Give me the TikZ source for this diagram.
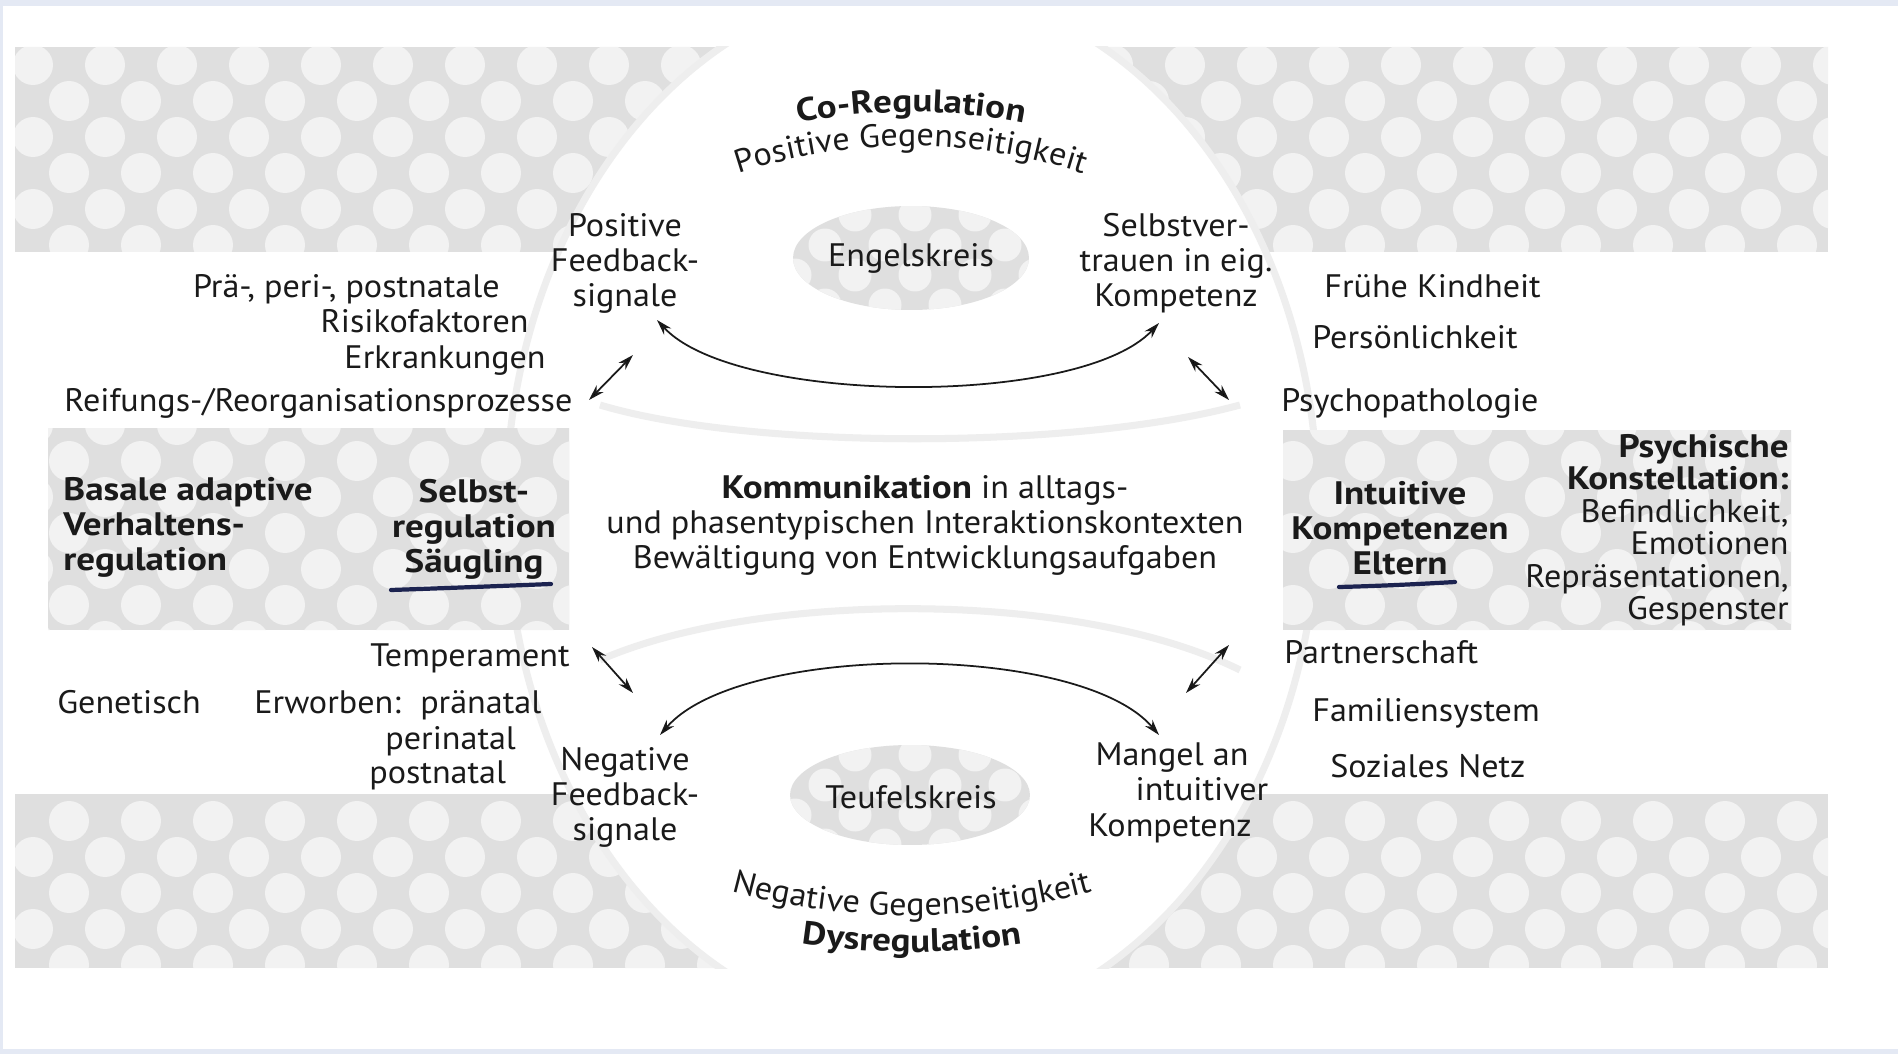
\documentclass[tikz,border=0pt]{standalone}
\usepackage{fontspec}
\setmainfont{PT Sans}[FakeStretch=1.05]
\newfontfamily\boldfam{PT Sans}[FakeStretch=1.14]
\newcommand\bft{\boldfam\bfseries}
\usetikzlibrary{arrows.meta,decorations.text}
\definecolor{ink}{HTML}{1A1A1A}
\definecolor{htbase}{HTML}{DFDFDF}
\definecolor{hthole}{HTML}{F2F2F2}
\definecolor{faintgrey}{HTML}{EEEEEE}
\definecolor{pen}{HTML}{1C2350}
\definecolor{scanblue}{HTML}{E4E9F4}
\newcommand\myarcfont{\fontsize{18.5}{19.9}\selectfont}
\begin{document}
\begin{tikzpicture}[x=0.02cm,y=-0.02cm,
  lbl/.style={font=\fontsize{18.5}{19.9}\selectfont, text=ink, inner sep=0pt, align=center},
  lblb/.style={lbl, font=\fontsize{18.5}{19.9}\selectfont\bft},
  link/.style={draw=ink, line width=1pt, {Stealth[length=9pt,width=5.5pt]}-{Stealth[length=9pt,width=5.5pt]}},
  faintline/.style={draw=faintgrey, line width=4pt},
  ulpen/.style={draw=pen, line width=2.4pt, line cap=round},
  arctext/.style={decorate, decoration={text along path, text align=center, text color=ink, text={#1}}}
]
\useasboundingbox (0,0) rectangle (1898,1054);
\fill[white] (0,0) rectangle (1898,1054);
% halftone top and bottom blocks
\begin{scope}
  \clip (15,47) rectangle (1828,252) (15,794) rectangle (1828,968);
  \fill[htbase] (15,47) rectangle (1828,968);
  \foreach \j in {0,...,5,21,22,23,24,25,26} {
    \pgfmathsetmacro\off{mod(\j,2)*36}
    \foreach \i in {0,...,25} {
      \fill[hthole] (33+72*\i+\off,65+36*\j) circle [radius=0.4cm];
    }
  }
\end{scope}
% white oval
\fill[white] (912,508) ellipse [x radius=8.12cm, y radius=10.44cm];
\begin{scope}
  \clip (15,47) rectangle (1828,968);
  \draw[faintline] (912,508) ellipse [x radius=8.12cm, y radius=10.44cm];
\end{scope}
% middle bands
\begin{scope}
  \clip (48,428) rectangle (569,630) (1283,430) rectangle (1791,630);
  \fill[htbase] (15,428) rectangle (1828,630);
  \foreach \j in {10,...,16} {
    \pgfmathsetmacro\off{mod(\j,2)*36}
    \foreach \i in {0,...,25} {
      \fill[hthole] (33+72*\i+\off,65+36*\j) circle [radius=0.4cm];
    }
  }
\end{scope}
% faint lens arcs
\draw[faintline] (600,405) .. controls (750,450) and (1075,450) .. (1240,405);
\draw[faintline] (600,660) .. controls (760,590) and (1080,590) .. (1240,670);
% blobs behind Engelskreis / Teufelskreis
\begin{scope}
  \clip (911,258) ellipse [x radius=2.36cm, y radius=1.04cm] (910,795) ellipse [x radius=2.4cm, y radius=1.0cm];
  \fill[htbase] (780,200) rectangle (1040,860);
  \foreach \j in {0,...,21} {
    \pgfmathsetmacro\off{mod(\j,2)*30}
    \foreach \i in {0,...,4} {
      \fill[hthole] (795+60*\i+\off,215+30*\j) circle [radius=0.33cm];
    }
  }
\end{scope}
% scan edges
\fill[scanblue] (0,0) rectangle (1898,6);
\fill[scanblue] (0,1049) rectangle (1898,1054);
\fill[scanblue] (0,0) rectangle (3,1054);

% arc texts
\path[arctext={|\myarcfont\bft|Co-Regulation}] (780,127) .. controls (866,107) and (956,107) .. (1042,127);
\path[arctext={|\myarcfont|Positive Gegenseitigkeit}] (715,182) .. controls (840,134) and (982,134) .. (1107,182);
\path[arctext={|\myarcfont|Negative Gegenseitigkeit}] (706,884) .. controls (840,926) and (984,926) .. (1118,884);
\path[arctext={|\myarcfont\bft|Dysregulation}] (780,940) .. controls (867,956) and (957,956) .. (1044,940);

% nodes
\node[lbl] (posfb) at (625,263) {Positive\\Feedback-\\signale};
\node[lbl] (engel) at (911,258) {Engelskreis};
\node[lbl] (selbstv) at (1176,263) {Selbstver-\\trauen in eig.\\Kompetenz};
\node[lbl, anchor=base east] (praeperi) at (500,298) {Prä-, peri-, postnatale};
\node[lbl, anchor=base east] (risiko) at (529,333) {Risikofaktoren};
\node[lbl, anchor=base east] (erkrank) at (546,369) {Erkrankungen};
\node[lbl, anchor=base west] (reifung) at (64,412) {Reifungs-/Reorganisationsprozesse};
\node[lbl, anchor=base west] (fruehe) at (1324,298) {Frühe Kindheit};
\node[lbl, anchor=base west] (persoen) at (1312,349) {Persönlichkeit};
\node[lbl, anchor=base west] (psychopath) at (1281,412) {Psychopathologie};
\node[lblb, anchor=west, align=left] (basale) at (63,527) {Basale adaptive\\Verhaltens-\\regulation};
\node[lblb] (selbstreg) at (474,529) {Selbst-\\regulation\\Säugling};
\node[lbl] (komm) at (925,525) {{\bft Kommunikation} in alltags-\\und phasentypischen Interaktionskontexten\\Bewältigung von Entwicklungsaufgaben};
\node[lblb] (intuitiv) at (1400,528) {Intuitive\\Kompetenzen\\Eltern};
\node[lbl, anchor=east, align=right, font=\fontsize{18.5}{18.5}\selectfont] (psychk) at (1789,530) {{\bft Psychische}\\{\bft Konstellation:}\\Befindlichkeit,\\Emotionen\\Repräsentationen,\\Gespenster};
\node[lbl, anchor=base east] (temper) at (570,666) {Temperament};
\node[lbl, anchor=base west] (genet) at (57,713) {Genetisch};
\node[lbl, anchor=base west] (erworb) at (254,713) {Erworben:\hspace{0.6em}pränatal};
\node[lbl, anchor=base west] (perinat) at (385,749) {perinatal};
\node[lbl, anchor=base west] (postnat) at (369,783) {postnatal};
\node[lbl, anchor=base west] (partner) at (1284,663) {Partnerschaft};
\node[lbl, anchor=base west] (famil) at (1312,721) {Familiensystem};
\node[lbl, anchor=base west] (sozial) at (1330,777) {Soziales Netz};
\node[lbl] (negfb) at (625,797) {Negative\\Feedback-\\signale};
\node[lbl] (teufel) at (911,797) {Teufelskreis};
\node[lbl, anchor=base] (mangelA) at (1172,765) {Mangel an};
\node[lbl, anchor=base] (mangelB) at (1202,800) {intuitiver};
\node[lbl, anchor=base] (mangelC) at (1170,836) {Kompetenz};

% underlines
\draw[ulpen] (391,590) .. controls (450,588) and (500,586) .. (551,584);
\draw[ulpen] (1339,587) .. controls (1380,586) and (1420,584) .. (1455,582);

% connectors
\coordinate (tA) at (657,320);
\coordinate (tB) at (1159,323);
\coordinate (bA) at (660,735);
\coordinate (bB) at (1159,735);
\coordinate (d1a) at (589,400); \coordinate (d1b) at (633,355);
\coordinate (d2a) at (1188,357); \coordinate (d2b) at (1229,400);
\coordinate (d3a) at (592,647); \coordinate (d3b) at (633,693);
\coordinate (d4a) at (1229,645); \coordinate (d4b) at (1186,693);
\draw[link] (tA) .. controls (735,405) and (1080,408) .. (tB);
\draw[link] (bA) .. controls (740,642) and (1080,642) .. (bB);
\draw[link] (d1a) -- (d1b);
\draw[link] (d2a) -- (d2b);
\draw[link] (d3a) -- (d3b);
\draw[link] (d4a) -- (d4b);
\end{tikzpicture}
\end{document}
